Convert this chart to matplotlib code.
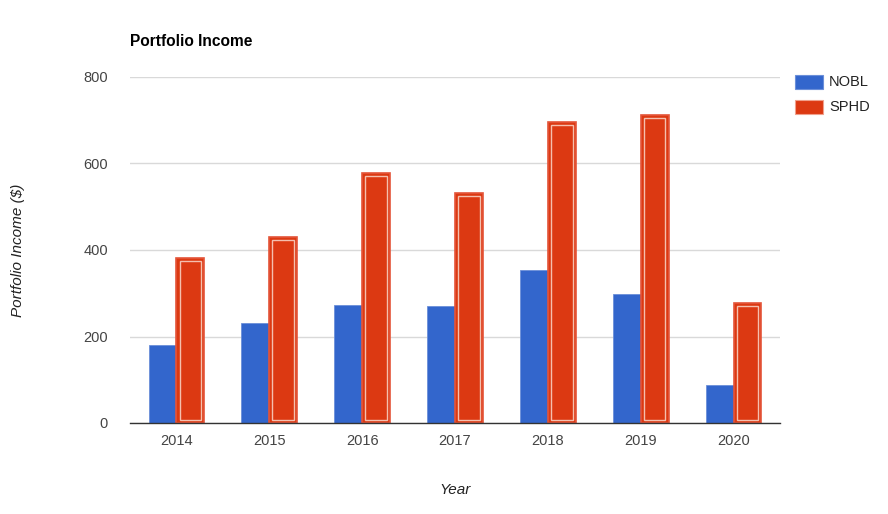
import matplotlib
matplotlib.use("Agg")
import matplotlib.pyplot as plt
import numpy as np
from matplotlib.patches import Rectangle

years = ["2014", "2015", "2016", "2017", "2018", "2019", "2020"]
nobl = [180, 231, 273, 270, 354, 298, 88]
sphd = [381, 430, 578, 532, 696, 712, 277]
series_names = ["NOBL", "SPHD"]
yticks = [0, 200, 400, 600, 800]

plt.rcParams['font.family'] = ['Liberation Sans', 'DejaVu Sans']

W, H = 888, 514
fig = plt.figure(figsize=(W/100, H/100), dpi=100)
ax = fig.add_axes([130/W, (H-423)/H, 650/W, 346/H])

x = np.arange(len(years))
bw = 0.30
blue = '#3366cc'
red = '#dc3912'

ax.bar(x - bw/2, nobl, width=bw, color=blue, edgecolor='#6b8fd9', linewidth=0.6, zorder=3)
ax.bar(x + bw/2, sphd, width=bw, color=red, edgecolor='#e4553a', linewidth=1.2, zorder=3)
# inner light stroke
dx = 3.2/93
dy = 3.2/0.4325
ax.bar(x + bw/2, np.array(sphd) - 2*dy, bottom=dy, width=bw - 2*dx, fill=False,
       edgecolor='#f5bfae', linewidth=1.0, zorder=4)

ax.set_xlim(-0.5, len(years) - 0.5)
ax.set_ylim(0, 800)
ax.set_yticks(yticks)
ax.set_xticks(x)
ax.set_xticklabels(years)
ax.tick_params(axis='both', length=0, labelsize=10.5, colors='#444444')
ax.tick_params(axis='y', pad=16)
ax.tick_params(axis='x', pad=8)
ax.yaxis.grid(True, color='#d9d9d9', linewidth=1, zorder=0)
ax.set_axisbelow(True)
for s in ['top', 'right', 'left']:
    ax.spines[s].set_visible(False)
ax.spines['bottom'].set_color('#333333')
ax.spines['bottom'].set_linewidth(1)
ax.spines['bottom'].set_zorder(5)

fig.text(130/W, 1 - 42/H, "Portfolio Income", fontsize=11.2, fontweight='bold',
         color='black', ha='left', va='center')
fig.text(18/W, 1 - 250/H, "Portfolio Income ($)", fontsize=11, style='italic',
         color='#222222', rotation=90, ha='center', va='center')
fig.text(455/W, 1 - 490/H, "Year", fontsize=11, style='italic',
         color='#222222', ha='center', va='center')

# legend
for i, (name, col, ec) in enumerate(zip(series_names, [blue, red], ['#6b8fd9', '#f0a08c'])):
    yc = 82 + i*25
    r = Rectangle((795/W, 1 - (yc+7)/H), 28/W, 14/H, transform=fig.transFigure,
                  facecolor=col, edgecolor=ec, linewidth=0.8)
    fig.patches.append(r)
    fig.text(829/W, 1 - yc/H, name, fontsize=10.5, color='#222222', ha='left', va='center')

fig.savefig("out.png", dpi=100)
